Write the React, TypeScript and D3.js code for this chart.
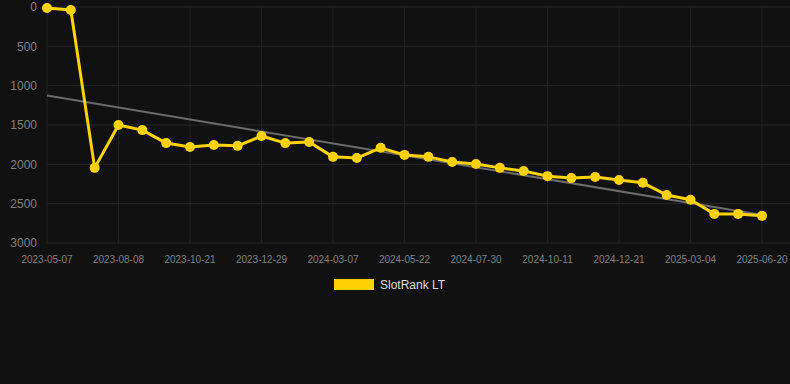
import React, { useEffect } from "react";
import * as d3 from "d3";

const dates = [
  "2023-05-07", "2023-06-08", "2023-07-09",
  "2023-08-08", "2023-09-02", "2023-09-27",
  "2023-10-21", "2023-11-13", "2023-12-06",
  "2023-12-29", "2024-01-21", "2024-02-13",
  "2024-03-07", "2024-04-01", "2024-04-27",
  "2024-05-22", "2024-06-14", "2024-07-07",
  "2024-07-30", "2024-08-23", "2024-09-17",
  "2024-10-11", "2024-11-03", "2024-11-27",
  "2024-12-21", "2025-01-14", "2025-02-08",
  "2025-03-04", "2025-04-08", "2025-05-14",
  "2025-06-20",
];
const ranks = [
  13, 38, 2045, 1500, 1565, 1730, 1780, 1755, 1765, 1640, 1730, 1715,
  1905, 1920, 1790, 1880, 1905, 1970, 1995, 2045, 2085, 2150, 2175, 2160,
  2200, 2235, 2390, 2450, 2630, 2630, 2655,
];
const yTicks = [0, 500, 1000, 1500, 2000, 2500, 3000];
const seriesName = "SlotRank LT";

const W = 790, H = 384;
const M = { left: 47, right: 762, top: 7, bottom: 243 };

export default function App() {
  useEffect(() => {
    document.body.style.margin = "0";
    document.body.style.background = "#111111";
  }, []);

  const x = d3.scalePoint<string>().domain(dates).range([M.left, M.right]);
  const y = d3.scaleLinear().domain([0, 3000]).range([M.top, M.bottom]);

  const n = ranks.length;
  const xs = ranks.map((_, i) => i);
  const mx = d3.mean(xs)!, my = d3.mean(ranks)!;
  const slope = d3.sum(xs, (v, i) => (v - mx) * (ranks[i] - my)) / d3.sum(xs, (v) => (v - mx) ** 2);
  const icpt = my - slope * mx;

  const line = d3.line<number>().x((_, i) => x(dates[i])!).y((d) => y(d));
  const font = "Helvetica, Arial, 'Liberation Sans', sans-serif";
  const labeled = dates.filter((_, i) => i % 3 === 0);

  return (
    <svg width={W} height={H} style={{ position: "absolute", left: 0, top: 0, background: "#111111" }}>
      <rect width={W} height={H} fill="#111111" />
      {yTicks.map((t) => (
        <g key={t}>
          <line x1={M.left} x2={790} y1={y(t)} y2={y(t)} stroke="#262626" strokeWidth={1} />
          <text x={37} y={y(t)} dy="0.35em" textAnchor="end" fill="#808080" fontSize={12} fontFamily={font}>{t}</text>
        </g>
      ))}
      {labeled.map((d) => (
        <g key={d}>
          <line x1={x(d)} x2={x(d)} y1={M.top} y2={M.bottom} stroke="#222" strokeWidth={1} />
          <text x={x(d)} y={259.5} dy="0.35em" textAnchor="middle" fill="#808080" fontSize={10} fontFamily={font}>{d}</text>
        </g>
      ))}
      <line
        x1={x(dates[0])} y1={y(icpt)}
        x2={x(dates[n - 1])} y2={y(icpt + slope * (n - 1))}
        stroke="#6b6b6b" strokeWidth={2}
      />
      <path d={line(ranks)!} fill="none" stroke="#FFD200" strokeWidth={3} strokeLinejoin="round" />
      {ranks.map((r, i) => (
        <circle key={i} cx={x(dates[i])} cy={y(r)} r={5} fill="#FFD200" />
      ))}
      <rect x={334} y={279} width={40} height={11} fill="#FFD200" />
      <text x={380} y={285} dy="0.35em" fill="#ddd" fontSize={12} fontFamily={font}>{seriesName}</text>
    </svg>
  );
}
